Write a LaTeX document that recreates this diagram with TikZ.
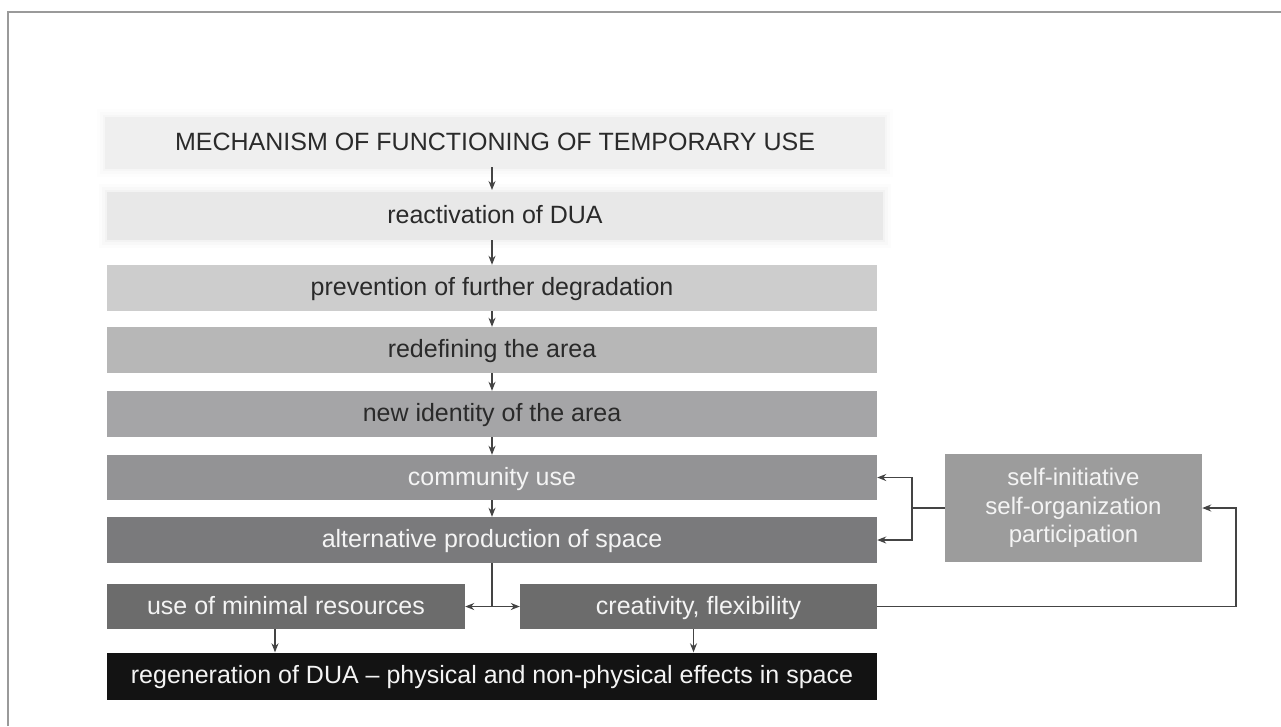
\documentclass[tikz,border=0pt]{standalone}
\usepackage{fontspec}
\setmainfont{Liberation Sans}
\usetikzlibrary{arrows.meta}
\definecolor{tbar}{HTML}{EFEFEF}
\definecolor{creac}{HTML}{E8E8E8}
\definecolor{cprev}{HTML}{CDCDCD}
\definecolor{credef}{HTML}{B7B7B7}
\definecolor{cnewid}{HTML}{A5A5A7}
\definecolor{ccomm}{HTML}{939395}
\definecolor{calt}{HTML}{7A7A7C}
\definecolor{cpair}{HTML}{6C6C6C}
\definecolor{creg}{HTML}{131313}
\definecolor{cself}{HTML}{9C9C9C}
\definecolor{dtext}{HTML}{2A2A2A}
\definecolor{ltext}{HTML}{F4F4F4}
\definecolor{cline}{HTML}{444444}
\definecolor{cframe}{HTML}{9A9A9A}
\begin{document}
\begin{tikzpicture}[x=1pt,y=-1pt,
  box/.style={rectangle, inner sep=0pt, minimum height=46pt, text=dtext,
    font=\fontsize{25}{29}\selectfont},
  onel/.style={box, text height=19pt, text depth=4pt},
  wide/.style={onel, minimum width=770pt},
  half/.style={onel, minimum width=357pt, text=ltext},
  conn/.style={draw=cline, line width=1.2pt},
  arr/.style={conn, -{Stealth[length=9pt,width=7pt]}},
]
\useasboundingbox (0,0) rectangle (1281,726);
\fill[white] (0,0) rectangle (1281,726);
\draw[cframe, line width=2pt] (8,726) -- (8,12) -- (1281,12);

% soft blurred edges for the two light top bars
\foreach \d/\o in {8/0.1, 5/0.18, 2/0.3}{
  \fill[tbar, opacity=\o] (105-\d,117-\d) rectangle (885+\d,169+\d);
  \fill[creac, opacity=\o] (107-\d,192-\d) rectangle (883+\d,240+\d);
}

\node[wide, fill=tbar, minimum height=52pt, minimum width=780pt] (title) at (495,143)
  {MECHANISM OF FUNCTIONING OF TEMPORARY USE};
\node[wide, fill=creac, minimum height=48pt, minimum width=776pt] (reac) at (495,216) {reactivation of DUA};
\node[wide, fill=cprev] (prev) at (492,288) {prevention of further degradation};
\node[wide, fill=credef] (redef) at (492,350) {redefining the area};
\node[wide, fill=cnewid] (newid) at (492,414) {new identity of the area};
\node[wide, fill=ccomm, text=ltext, minimum height=45pt] (comm) at (492,477.5) {community use};
\node[wide, fill=calt, text=ltext] (alt) at (492,540) {alternative production of space};
\node[half, fill=cpair, minimum width=358pt, minimum height=45pt] (mini) at (286,606.5) {use of minimal resources};
\node[half, fill=cpair, minimum height=45pt] (crea) at (698.5,606.5) {creativity, flexibility};
\node[wide, fill=creg, text=ltext, minimum height=47pt] (reg) at (492,676) {regeneration of DUA -- physical and non-physical effects in space};
\node[box, fill=cself, text=ltext, minimum width=257pt, minimum height=108pt, align=center,
  font=\fontsize{24}{28.5}\selectfont] (self) at (1073.5,508)
  {self-initiative\\self-organization\\participation};

% main chain
\draw[arr] (492,167) -- (492,190);
\draw[arr] (492,240) -- (prev.north);
\draw[arr] (prev.south) -- (redef.north);
\draw[arr] (redef.south) -- (newid.north);
\draw[arr] (newid.south) -- (comm.north);
\draw[arr] (comm.south) -- (alt.north);

% split
\coordinate (split) at (492,606.5);
\draw[conn] (alt.south) -- (split);
\draw[arr] (split) -- (mini.east);
\draw[arr] (split) -- (crea.west);

% to regeneration
\draw[arr] ([xshift=-11pt]mini.south) -- ([xshift=-11pt]mini.south |- reg.north);
\draw[arr] ([xshift=-5pt]crea.south) -- ([xshift=-5pt]crea.south |- reg.north);

% self box to community / alternative
\coordinate (j) at (912,508);
\draw[conn] (self.west) -- (j);
\draw[arr] (j) |- (comm.east);
\draw[arr] (j) |- (alt.east);

% feedback from creativity
\coordinate (fb) at (1236,606.5);
\draw[arr] (crea.east) -- (fb) |- (self.east);
\end{tikzpicture}
\end{document}
